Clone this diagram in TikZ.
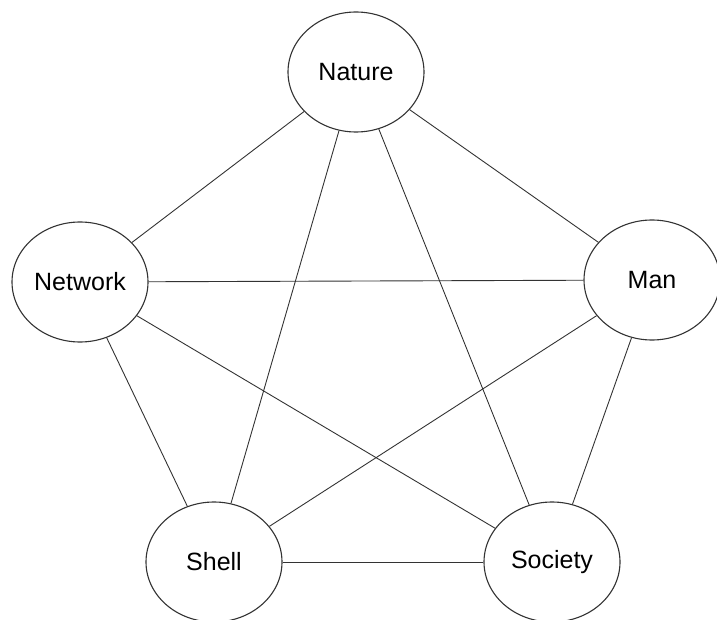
\documentclass[tikz,border=0pt]{standalone}
\usepackage{fontspec}
\setmainfont{Liberation Sans}
\usepackage{xcolor}
\definecolor{darkgray}{HTML}{333333}
\usetikzlibrary{shapes.geometric,positioning}

\begin{document}
\begin{tikzpicture}[x = 1pt, y = -1pt, sphere/.style={
					ellipse, minimum width = 136pt, minimum height = 120pt, inner sep = 0pt,
					draw = darkgray, line width = 1.1pt, fill = white,
					font = \fontsize{25}{30}\selectfont},
					link/.style={draw = darkgray, line width = 0.9pt}]
		\useasboundingbox (0,0) rectangle (717,620);
		\node (Nature) [sphere] at (356,72) {Nature};
		\node (Network) [sphere] at (80,282) {Network};
		\node (Man) [sphere] at (652,280) {Man};
		\node (Shell) [sphere] at (214,562) {Shell};
		\node (Society) [sphere] at (552,562) {Society};
		% outer ring
		\draw [link] (Nature) -- (Network);
		\draw [link] (Nature) -- (Man);
		\draw [link] (Network) -- (Shell);
		\draw [link] (Man) -- (Society);
		\draw [link] (Shell) -- (Society);
		% inner star
		\draw [link] (Nature) -- (Shell);
		\draw [link] (Nature) -- (Society);
		\draw [link] (Network) -- (Man);
		\draw [link] (Network) -- (Society);
		\draw [link] (Man) -- (Shell);
	\end{tikzpicture}
\end{document}
